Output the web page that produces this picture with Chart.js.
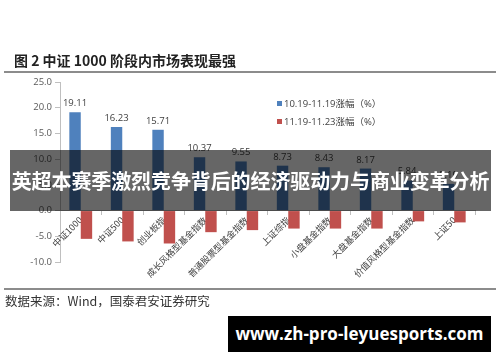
<!DOCTYPE html>
<html>
<head>
<meta charset="utf-8">
<script src="https://cdn.jsdelivr.net/npm/chart.js@4.4.0/dist/chart.umd.min.js"></script>
<style>
  html, body { margin:0; padding:0; background:#fff; }
  body { width:500px; height:362px; position:relative; overflow:hidden; font-family:"Noto Sans CJK SC", "DejaVu Sans", sans-serif; }
  #c { position:absolute; left:0; top:0; }
  .title { position:absolute; left:14px; top:50px; font-size:14px; font-weight:bold; color:#222; white-space:nowrap; }
  .rule { position:absolute; left:4px; width:492px; height:2px; background:#8c8c8c; }
  .src { position:absolute; left:5px; top:291px; font-size:12.5px; color:#333; white-space:nowrap; }
  .legend { position:absolute; left:277px; font-size:9.5px; color:#404040; white-space:nowrap; font-family:"Open Sans","Noto Sans CJK SC",sans-serif; }
  .legend i { display:inline-block; width:5px; height:5px; margin-right:2px; vertical-align:1px; }
  .band { position:absolute; left:10px; top:150px; width:481px; height:61px; background:rgba(0,0,0,0.6); color:#fff; font-size:20px; font-weight:bold; line-height:61px; text-align:center; white-space:nowrap; letter-spacing:-0.1px; }
  .wm { position:absolute; left:228px; top:316px; width:263px; height:36px; background:#000; color:#fff; font-family:"Open Sans",sans-serif; font-weight:bold; font-size:17px; line-height:36px; text-align:center; white-space:nowrap; }
</style>
</head>
<body>
<canvas id="c" width="500" height="362"></canvas>
<div class="title">图 2 中证 1000 阶段内市场表现最强</div>
<div class="rule" style="top:71px"></div>
<div class="rule" style="top:288px"></div>
<div class="src">数据来源：Wind，国泰君安证券研究</div>
<div id="legend"></div>
<div class="band">英超本赛季激烈竞争背后的经济驱动力与商业变革分析</div>
<div class="wm">www.zh-pro-leyuesports.com</div>
<script>
// categories and series
const categories = ['中证1000','中证500','创业板指','成长风格型基金指数','普通股票型基金指数','上证综指','小盘基金指数','大盘基金指数','价值风格型基金指数','上证50'];
const seriesNames = ['10.19-11.19涨幅（%）','11.19-11.23涨幅（%）'];
const monthGain = [19.11, 16.23, 15.71, 10.37, 9.55, 8.73, 8.43, 8.17, 5.84, 5.19];
const weekGain = [-5.5, -6.0, -6.4, -4.2, -3.8, -3.5, -3.5, -3.5, -2.1, -2.3];
const yTicks = [-10, -5, 0, 5, 10, 15, 20, 25];
const colors = ['#4f81bd', '#c0504d'];

// legend
const lg = document.getElementById('legend');
seriesNames.forEach((n, i) => {
  const d = document.createElement('div');
  d.className = 'legend';
  d.style.top = (96 + i * 18) + 'px';
  d.innerHTML = `<i style="background:${colors[i]}"></i>${n}`;
  lg.appendChild(d);
});

const valueLabels = {
  id: 'valueLabels',
  afterDatasetsDraw(chart) {
    const ctx = chart.ctx;
    const meta = chart.getDatasetMeta(0);
    ctx.save();
    ctx.font = '9.5px "Open Sans", sans-serif';
    ctx.fillStyle = '#404040';
    ctx.textAlign = 'center';
    ctx.textBaseline = 'bottom';
    meta.data.forEach((bar, i) => {
      ctx.fillText(monthGain[i].toFixed(2), bar.x, bar.y - 4);
    });
    ctx.restore();
  }
};

new Chart(document.getElementById('c'), {
  type: 'bar',
  data: {
    labels: categories,
    datasets: [
      { label: seriesNames[0], data: monthGain, backgroundColor: colors[0], categoryPercentage: 0.55, barPercentage: 1.0 },
      { label: seriesNames[1], data: weekGain, backgroundColor: colors[1], categoryPercentage: 0.55, barPercentage: 1.0 }
    ]
  },
  options: {
    responsive: false,
    animation: false,
    layout: { padding: { top: 82, bottom: 100, left: 0, right: 25 } },
    plugins: { legend: { display: false }, tooltip: { enabled: false } },
    scales: {
      y: {
        min: yTicks[0], max: yTicks[yTicks.length - 1],
        afterBuildTicks: s => { s.ticks = yTicks.map(v => ({ value: v })); },
        afterFit: s => { s.width = 60; },
        ticks: { callback: v => Number(v).toFixed(1), font: { size: 9.5, family: '"Open Sans", sans-serif' }, color: '#595959', padding: 3 },
        grid: { drawOnChartArea: false, tickLength: 5, color: '#bfbfbf' },
        border: { color: '#bfbfbf' }
      },
      x: {
        position: { y: 0 },
        grid: { drawOnChartArea: false, tickLength: 4, color: '#bfbfbf', offset: true },
        border: { color: '#bfbfbf' },
        ticks: { autoSkip: false, minRotation: 45, maxRotation: 45, padding: 0, font: { size: 9, family: '"Noto Sans CJK SC", sans-serif' }, color: '#404040' }
      }
    }
  },
  plugins: [valueLabels]
});
</script>
</body>
</html>
